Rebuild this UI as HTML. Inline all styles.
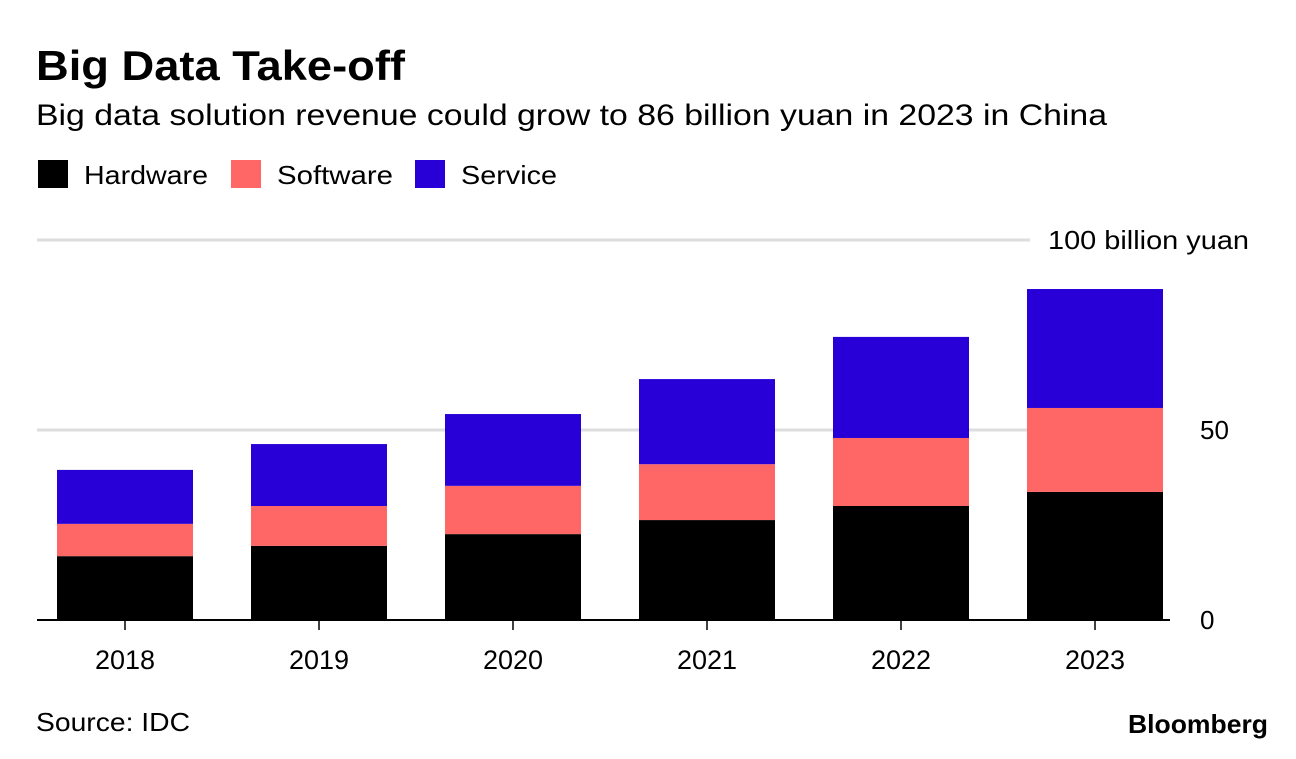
<!DOCTYPE html>
<html><head><meta charset="utf-8"><style>
body{margin:0;background:#fff;width:1296px;height:754px;overflow:hidden;font-family:"Liberation Sans",sans-serif;}
</style></head><body>
<svg id="chart" width="1296" height="754" xmlns="http://www.w3.org/2000/svg" font-family="Liberation Sans, sans-serif">
<text x="36" y="80" font-size="42" font-weight="bold" fill="#000" textLength="369" lengthAdjust="spacingAndGlyphs">Big Data Take-off</text>
<text x="36" y="125" font-size="30" fill="#000" textLength="1071" lengthAdjust="spacingAndGlyphs">Big data solution revenue could grow to 86 billion yuan in 2023 in China</text>
<g>
<rect x="38" y="160" width="30" height="28" fill="#000"/>
<text x="84" y="184" font-size="26" textLength="124" lengthAdjust="spacingAndGlyphs">Hardware</text>
<rect x="231" y="160" width="30" height="28" fill="#ff6666"/>
<text x="277" y="184" font-size="26" textLength="116" lengthAdjust="spacingAndGlyphs">Software</text>
<rect x="415" y="160" width="30" height="28" fill="#2800d7"/>
<text x="461" y="184" font-size="26" textLength="96" lengthAdjust="spacingAndGlyphs">Service</text>
</g>
<g id="grid"></g><g id="bars"></g><g id="xaxis"></g>
<text x="36" y="731" font-size="26" textLength="154" lengthAdjust="spacingAndGlyphs">Source: IDC</text>
<text x="1128" y="733" font-size="26" font-weight="bold" textLength="140" lengthAdjust="spacingAndGlyphs">Bloomberg</text>
</svg>
<script>
const years=["2018","2019","2020","2021","2022","2023"];
const hardware=[16.8,19.5,22.6,26.3,30,33.7];
const software=[8.5,10.5,12.7,14.7,17.9,22.1];
const service=[14.2,16.3,18.9,22.4,26.6,31.3];
const yTicks=[0,50,100];
const yTickLabels=["0","50","100 billion yuan"];
const NS="http://www.w3.org/2000/svg";
const y=v=>620-v*3.8;
const x=i=>57+i*194;
const bw=136;
function mk(tag,attrs,parent){const e=document.createElementNS(NS,tag);for(const k in attrs)e.setAttribute(k,attrs[k]);parent.appendChild(e);return e;}
const grid=document.getElementById('grid'),bars=document.getElementById('bars'),xa=document.getElementById('xaxis');
yTicks.forEach((t,i)=>{
 if(t!==0){const l=mk('line',{x1:37,x2:1030,y1:y(t),y2:y(t),stroke:'#ddd','stroke-width':3},grid);
 
 }
 const attrs={x:i==2?1048:1200,y:y(t)+9,'font-size':26};
 if(i==2){attrs.textLength=201;attrs.lengthAdjust='spacingAndGlyphs';}
 const tx=mk('text',attrs,grid);tx.textContent=yTickLabels[i];
 
 
});
const series=[[hardware,'#000','hardware'],[software,'#ff6666','software'],[service,'#2800d7','service']];
years.forEach((yr,i)=>{
 let base=0;
 series.forEach(([arr,c,n])=>{
  const r=mk('rect',{x:x(i),y:y(base+arr[i]),width:bw,height:arr[i]*3.8,fill:c},bars);
  
  
  base+=arr[i];
 });
 const tk=mk('line',{x1:x(i)+bw/2,x2:x(i)+bw/2,y1:620,y2:630,stroke:'#000','stroke-width':1.5},xa);
 
 
 const t=mk('text',{x:x(i)+bw/2,y:669,'font-size':27,'text-anchor':'middle'},xa);t.textContent=yr;
 
 
});
const ax=mk('line',{x1:37,x2:1170,y1:620,y2:620,stroke:'#000','stroke-width':2},xa);


</script>
</body></html>
